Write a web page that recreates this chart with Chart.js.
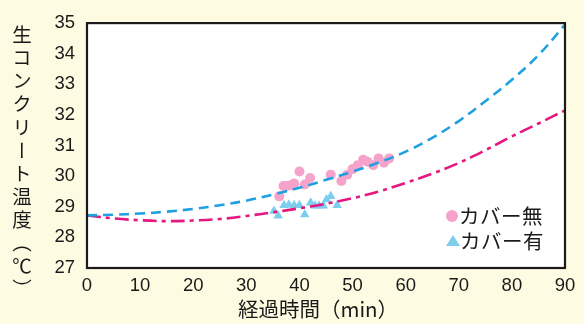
<!DOCTYPE html>
<html>
<head>
<meta charset="utf-8">
<script src="https://cdn.jsdelivr.net/npm/chart.js@4.4.1/dist/chart.umd.min.js"></script>
<style>
  html,body{margin:0;padding:0;}
  body{width:584px;height:324px;overflow:hidden;position:relative;background:#fdfbe2;}
  #c{position:absolute;left:0;top:0;}
  .ytitle{position:absolute;left:12px;top:25px;writing-mode:vertical-rl;font-family:"Noto Sans CJK JP",sans-serif;font-size:19.5px;letter-spacing:3.6px;color:#1a1a1a;line-height:1;}
  .xtitle{position:absolute;left:318px;top:296px;transform:translateX(-50%);font-family:"Noto Sans CJK JP",sans-serif;font-size:20.5px;color:#1a1a1a;white-space:nowrap;line-height:1.2;}
  .legend{position:absolute;left:446px;top:203px;font-family:"Noto Sans CJK JP",sans-serif;font-size:20.5px;letter-spacing:0.5px;color:#1a1a1a;line-height:25px;}
  .row{display:flex;align-items:center;white-space:nowrap;}
  .dot{display:inline-block;width:12px;height:12px;border-radius:50%;background:#f6a3cb;margin-right:1px;}
  .tri{display:inline-block;width:0;height:0;border-left:7px solid transparent;border-right:7px solid transparent;border-bottom:11px solid #7ccdee;margin-right:0px;}
</style>
</head>
<body>
<canvas id="c" width="584" height="324"></canvas>
<div class="ytitle">生コンクリート温度（℃）</div>
<div class="xtitle">経過時間（min）</div>
<div class="legend">
  <div class="row"><span class="dot"></span>カバー無</div>
  <div class="row"><span class="tri"></span>カバー有</div>
</div>
<script>
// Elapsed time (min) used for the two fitted curves
const curveTime = [0,5,10,15,20,25,30,35,40,45,50,55,60,65,70,75,80,85,90];
// Blue dashed curve (temperature, °C)
const curveBlue = [28.72,28.74,28.78,28.84,28.93,29.05,29.2,29.4,29.62,29.88,30.15,30.45,30.8,31.25,31.8,32.45,33.15,33.95,34.95];
// Magenta dash-dot curve (temperature, °C)
const curvePink = [28.72,28.62,28.56,28.53,28.55,28.6,28.7,28.82,28.95,29.1,29.28,29.5,29.78,30.08,30.43,30.85,31.3,31.72,32.15];

// カバー無 (pink circles)
const noCoverTime = [36.2,37.0,37.6,38.4,39.0,40.0,41.0,42.0,45.9,47.9,49.0,50.0,51.0,52.0,52.8,53.9,54.9,55.9,56.9];
const noCoverTemp = [29.34,29.68,29.68,29.7,29.76,30.15,29.73,29.94,30.05,29.84,30.05,30.23,30.36,30.54,30.47,30.36,30.58,30.44,30.58];

// カバー有 (blue triangles)
const coverTime = [35.2,36.0,37.1,38.0,39.0,40.0,41.0,42.1,42.9,43.7,44.5,45.1,45.9,47.1];
const coverTemp = [28.86,28.71,29.05,29.07,29.05,29.05,28.75,29.13,29.03,29.03,29.03,29.24,29.34,29.05];

const xTicks = [0,10,20,30,40,50,60,70,80,90];
const yTicks = [27,28,29,30,31,32,33,34,35];

const pts = (xs, ys) => xs.map((x, i) => ({x, y: ys[i]}));

const frame = {
  id: 'frame',
  beforeDraw(chart) {
    const {ctx, chartArea: a} = chart;
    ctx.save();
    ctx.fillStyle = '#ffffff';
    ctx.fillRect(a.left, a.top, a.right - a.left, a.bottom - a.top);
    ctx.restore();
  },
  afterDraw(chart) {
    const {ctx, chartArea: a} = chart;
    ctx.save();
    ctx.strokeStyle = '#1a1a1a';
    ctx.lineWidth = 2.2;
    ctx.strokeRect(a.left, a.top, a.right - a.left, a.bottom - a.top);
    ctx.restore();
  }
};

new Chart(document.getElementById('c'), {
  type: 'scatter',
  data: {
    datasets: [
      {
        label: 'fitBlue',
        data: pts(curveTime, curveBlue),
        showLine: true,
        borderColor: '#1ea0e2',
        borderWidth: 2.6,
        borderDash: [10, 6],
        pointRadius: 0,
        tension: 0.35,
        order: 0
      },
      {
        label: 'fitPink',
        data: pts(curveTime, curvePink),
        showLine: true,
        borderColor: '#e5187f',
        borderWidth: 2.6,
        borderDash: [14, 5, 4, 5],
        pointRadius: 0,
        tension: 0.35,
        order: 0
      },
      {
        label: 'カバー無',
        data: pts(noCoverTime, noCoverTemp),
        pointStyle: 'circle',
        pointRadius: 5,
        backgroundColor: '#f6a3cb',
        borderColor: '#f6a3cb',
        borderWidth: 0,
        order: 1
      },
      {
        label: 'カバー有',
        data: pts(coverTime, coverTemp),
        pointStyle: 'triangle',
        pointRadius: 5.5,
        backgroundColor: '#7ccdee',
        borderColor: '#7ccdee',
        borderWidth: 0,
        order: 1
      }
    ]
  },
  options: {
    responsive: false,
    animation: false,
    devicePixelRatio: 1,
    layout: {padding: {top: 15, right: 19, left: 0, bottom: 0}},
    plugins: {legend: {display: false}, tooltip: {enabled: false}},
    scales: {
      x: {
        type: 'linear', min: 0, max: 90,
        afterBuildTicks: s => { s.ticks = xTicks.map(v => ({value: v})); },
        ticks: {font: {size: 18.5, family: 'Liberation Sans'}, color: '#1a1a1a', padding: 7, maxRotation: 0},
        grid: {display: false, drawTicks: false},
        border: {display: false},
        afterFit: s => { s.height = 56; }
      },
      y: {
        min: 27, max: 35,
        afterBuildTicks: s => { s.ticks = yTicks.map(v => ({value: v})); },
        ticks: {font: {size: 18.5, family: 'Liberation Sans'}, color: '#1a1a1a', padding: 12},
        grid: {display: false, drawTicks: false},
        border: {display: false},
        afterFit: s => { s.width = 87; }
      }
    }
  },
  plugins: [frame]
});
</script>
</body>
</html>
